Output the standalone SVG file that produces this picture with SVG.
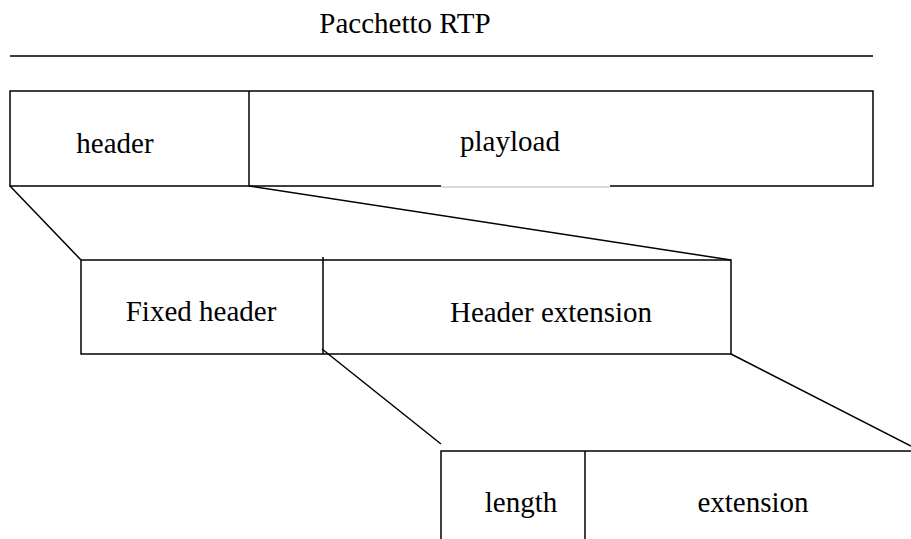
<svg xmlns="http://www.w3.org/2000/svg" width="911" height="539" viewBox="0 0 911 539">
  <style>
    .box { fill: none; stroke: #000; stroke-width: 1.5; }
    .ln { stroke: #000; stroke-width: 1.5; fill: none; }
    .lbl { font-family: "Liberation Serif", "Times New Roman", serif; font-size: 29px; fill: #000; text-anchor: middle; }
  </style>
  <rect width="911" height="539" fill="#fff"/>

  <!-- title and rule -->
  <g id="title">
    <text class="lbl" x="405" y="33">Pacchetto RTP</text>
    <line class="ln" x1="10" y1="56" x2="873" y2="56" stroke-width="2"/>
  </g>

  <!-- RTP packet: header + payload -->
  <g id="packet">
    <path class="ln" d="M441,186 H10 V91 H873 V186 H610" stroke-width="1.8"/>
    <line x1="441" y1="187" x2="610" y2="187" stroke="#cfcfcf" stroke-width="1.5"/>
    <line class="ln" x1="249" y1="91" x2="249" y2="186"/>
    <text class="lbl" x="115" y="153">header</text>
    <text class="lbl" x="510" y="151">playload</text>
  </g>

  <!-- expanded header -->
  <g id="header-detail">
    <rect class="box" x="81" y="260" width="650" height="94"/>
    <line class="ln" x1="323" y1="257" x2="323" y2="354"/>
    <text class="lbl" x="201" y="321">Fixed header</text>
    <text class="lbl" x="551" y="322">Header extension</text>
  </g>

  <!-- expanded header extension -->
  <g id="extension-detail">
    <path class="ln" d="M441,545 V451 H915"/>
    <line class="ln" x1="585" y1="451" x2="585" y2="545"/>
    <text class="lbl" x="521" y="512">length</text>
    <text class="lbl" x="753" y="512">extension</text>
  </g>

  <!-- zoom connectors -->
  <g id="connectors">
    <line class="ln" x1="10" y1="186" x2="81" y2="260"/>
    <line class="ln" x1="249" y1="186" x2="731" y2="260"/>
    <line class="ln" x1="322" y1="349" x2="441" y2="444"/>
    <line class="ln" x1="731" y1="354" x2="911" y2="446"/>
  </g>
</svg>
